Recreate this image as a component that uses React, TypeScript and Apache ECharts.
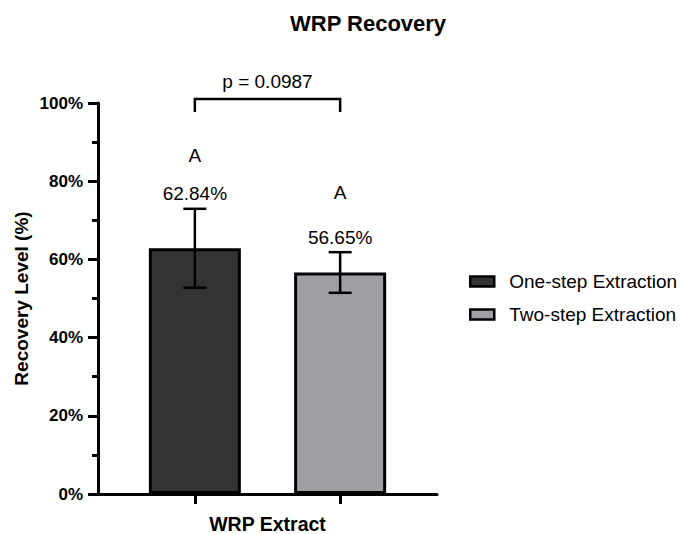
import React, { useEffect, useRef } from "react";
import * as echarts from "echarts";

const FONT = "'Liberation Sans', Arial, sans-serif";

const categories = ["One-step Extraction", "Two-step Extraction"];
const positions = [0, 1];
const means = [62.84, 56.65];
const sds = [10.1, 5.2];
const colors = ["#333333", "#a09fa5"];
const letters = ["A", "A"];
const letterLevels = [86.7, 77.2];
const bracketTop = 101;
const bracketLegBottom = 97.7;
const pText = "p = 0.0987";
const groupName = "WRP Extract";
const yName = "Recovery Level (%)";
const titleText = "WRP Recovery";

export default function App() {
  const ref = useRef<HTMLDivElement>(null);
  useEffect(() => {
    document.body.style.margin = "0";
    const chart = echarts.init(ref.current!, null, { renderer: "svg" });
    const barSeries = categories.map((name, i) => ({
      type: "bar",
      name,
      data: [[positions[i], means[i]]],
      barWidth: 92,
      barGap: "-100%",
      itemStyle: { color: colors[i], borderColor: "#000", borderWidth: 3 },
    }));
    const option: any = {
      animation: false,
      title: {
        text: titleText,
        left: 290,
        top: 12,
        padding: 0,
        textStyle: { fontFamily: FONT, fontSize: 22, fontWeight: "bold", color: "#000" },
      },
      legend: {
        data: categories,
        orient: "vertical",
        left: 469,
        top: 272,
        padding: 0,
        icon: "rect",
        itemWidth: 24,
        itemHeight: 10,
        itemGap: 14,
        itemStyle: { borderWidth: 2.5, borderColor: "#000" },
        textStyle: { fontFamily: FONT, fontSize: 19, color: "#000", padding: [0, 0, 0, 10] },
      },
      grid: { left: 98, right: 244, top: 103, bottom: 40, outerBoundsMode: "none" },
      xAxis: {
        type: "value",
        min: -2 / 3,
        max: 5 / 3,
        name: groupName,
        nameLocation: "middle",
        nameGap: 20,
        nameTextStyle: { fontFamily: FONT, fontSize: 19.5, fontWeight: "bold", color: "#000" },
        axisLine: { show: true, onZero: false, lineStyle: { color: "#000", width: 3 } },
        axisTick: { show: true, length: 10, lineStyle: { color: "#000", width: 3 }, customValues: positions },
        axisLabel: { show: false },
        splitLine: { show: false },
      },
      yAxis: {
        type: "value",
        min: 0,
        max: 100,
        interval: 20,
        name: yName,
        nameLocation: "middle",
        nameGap: 67,
        nameTextStyle: { fontFamily: FONT, fontSize: 19, fontWeight: "bold", color: "#000" },
        axisLine: { show: true, onZero: false, lineStyle: { color: "#000", width: 3 } },
        axisTick: { show: true, length: 10, lineStyle: { color: "#000", width: 3 } },
        minorTick: { show: true, splitNumber: 2, length: 6, lineStyle: { color: "#000", width: 3 } },
        axisLabel: {
          formatter: "{value}%",
          margin: 15,
          fontFamily: FONT,
          fontSize: 17,
          fontWeight: "bold",
          color: "#000",
        },
        splitLine: { show: false },
      },
      series: [
        ...barSeries,
        {
          type: "custom",
          name: "errors",
          z: 5,
          data: positions.map((p, i) => [p, means[i] - sds[i], means[i] + sds[i], i]),
          renderItem: (params: any, api: any) => {
            const x = api.value(0);
            const lo = api.coord([x, api.value(1)]);
            const hi = api.coord([x, api.value(2)]);
            const idx = api.value(3);
            const cap = 11.5;
            const ls = { stroke: "#000", lineWidth: 2.5 };
            return {
              type: "group",
              children: [
                { type: "line", shape: { x1: lo[0], y1: lo[1], x2: hi[0], y2: hi[1] }, style: ls },
                { type: "line", shape: { x1: hi[0] - cap, y1: hi[1], x2: hi[0] + cap, y2: hi[1] }, style: ls },
                { type: "line", shape: { x1: lo[0] - cap, y1: lo[1], x2: lo[0] + cap, y2: lo[1] }, style: ls },
                {
                  type: "text",
                  style: {
                    x: hi[0],
                    y: hi[1] - 15,
                    text: means[idx].toFixed(2) + "%",
                    align: "center",
                    verticalAlign: "middle",
                    fontFamily: FONT,
                    fontSize: 19,
                    fill: "#000",
                  },
                },
              ],
            };
          },
        },
        {
          type: "custom",
          name: "letters",
          z: 5,
          data: positions.map((p, i) => [p, letterLevels[i], i]),
          renderItem: (params: any, api: any) => {
            const pt = api.coord([api.value(0), api.value(1)]);
            return {
              type: "text",
              style: {
                x: pt[0],
                y: pt[1],
                text: letters[api.value(2)],
                align: "center",
                verticalAlign: "middle",
                fontFamily: FONT,
                fontSize: 19,
                fill: "#000",
              },
            };
          },
        },
        {
          type: "custom",
          name: "bracket",
          z: 5,
          data: [[positions[0], positions[1], bracketTop, bracketLegBottom]],
          renderItem: (params: any, api: any) => {
            const a = api.coord([api.value(0), api.value(2)]);
            const b = api.coord([api.value(1), api.value(2)]);
            const aL = api.coord([api.value(0), api.value(3)]);
            const bL = api.coord([api.value(1), api.value(3)]);
            return {
              type: "group",
              children: [
                {
                  type: "polyline",
                  shape: { points: [aL, a, b, bL] },
                  style: { stroke: "#000", lineWidth: 2.5, fill: "none" },
                },
                {
                  type: "text",
                  style: {
                    x: (a[0] + b[0]) / 2,
                    y: a[1] - 18,
                    text: pText,
                    align: "center",
                    verticalAlign: "middle",
                    fontFamily: FONT,
                    fontSize: 19,
                    fill: "#000",
                  },
                },
              ],
            };
          },
        },
      ],
    };
    chart.setOption(option);
    return () => chart.dispose();
  }, []);
  return <div ref={ref} style={{ position: "absolute", left: 0, top: 0, width: 681, height: 534 }} />;
}
